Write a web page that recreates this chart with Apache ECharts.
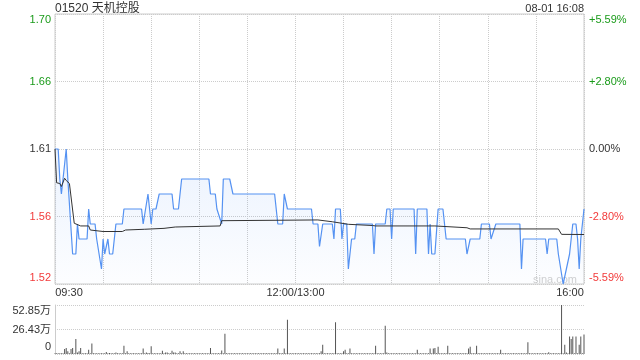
<!DOCTYPE html>
<html><head><meta charset="utf-8">
<script src="https://cdn.jsdelivr.net/npm/echarts@6/dist/echarts.min.js"></script>
<style>html,body{margin:0;padding:0;background:#fff}#c{width:640px;height:360px}</style>
</head><body><div id="c"></div>
<script>
const PREV_CLOSE = 1.61;
const stockTitle = '01520 天机控股';
const stampText = '08-01 16:08';

// minutes from 09:30 (lunch break removed; 150 = 12:00/13:00, 330 = 16:00)
const priceMinutes = [0,2,3,4,5,7,8,9,11,13,14,15,20,21,22,25,26,27,29,30,31,33,34,36,38,42,43,54,55,56,58,59,60,61,63,65,73,74,77,79,96,97,100,101,102,104,105,109,111,137,139,142,143,145,160,161,164,165,167,173,174,175,178,179,180,182,183,185,187,188,198,199,200,206,207,209,210,211,224,225,226,232,233,234,235,237,239,242,244,256,257,259,265,266,271,272,273,275,290,291,292,306,307,308,313,314,315,317,318,319,321,323,325,326,327,328,330];
const priceValues  = [1.61,1.61,1.59,1.58,1.59,1.61,1.59,1.59,1.54,1.54,1.56,1.55,1.55,1.57,1.56,1.56,1.55,1.55,1.53,1.55,1.54,1.55,1.54,1.54,1.56,1.56,1.57,1.57,1.56,1.56,1.58,1.58,1.56,1.57,1.57,1.58,1.58,1.57,1.57,1.59,1.59,1.58,1.58,1.57,1.57,1.56,1.59,1.59,1.58,1.58,1.56,1.56,1.58,1.57,1.57,1.56,1.56,1.545,1.56,1.56,1.55,1.57,1.57,1.55,1.56,1.56,1.53,1.55,1.55,1.56,1.56,1.54,1.56,1.56,1.57,1.57,1.55,1.57,1.57,1.54,1.57,1.57,1.54,1.56,1.54,1.54,1.57,1.57,1.55,1.55,1.54,1.55,1.55,1.56,1.56,1.55,1.55,1.56,1.56,1.53,1.55,1.55,1.54,1.55,1.55,1.54,1.54,1.52,1.52,1.53,1.54,1.56,1.56,1.55,1.53,1.55,1.57];

const avgMinutes = [0,1,3,4,6,7,9,12,16,21,22,30,42,44,56,68,75,103,104,164,173,174,183,184,198,200,237,257,259,314,316,330];
const avgValues  = [1.61,1.5875,1.587,1.585,1.5905,1.589,1.587,1.5605,1.5587,1.5587,1.556,1.555,1.555,1.556,1.5565,1.5571,1.558,1.5587,1.5622,1.5627,1.5615,1.5605,1.5598,1.559,1.559,1.5587,1.5587,1.5575,1.5567,1.5567,1.5531,1.553];

// volume per minute, unit 万 (index = minute)
const volumeValues = [
 0.8,0.9,0.9,0.8,0.9,0.9,5.4,6.5,2.9,0.9,
 5.4,6.5,0.9,16.2,1.5,2.9,6.5,0.9,0.9,0.9,
 0.9,4.7,0.9,11.2,0.9,0.9,0.9,0.9,0.9,0.9,
 0.9,0.9,2.2,0.9,1.2,0.9,0.9,0.9,1.5,0.9,
 0.9,0.9,0.9,9.0,0.9,2.9,0.9,0.9,0.9,0.9,
 0.9,0.9,0.9,0.9,0.9,5.8,0.9,1.5,1.2,0.9,
 8.3,0.9,0.9,0.9,0.9,0.9,0.9,3.6,0.9,1.5,
 1.5,0.9,0.9,3.6,1.5,1.5,0.9,0.9,2.9,0.9,
 2.9,0.9,0.9,0.9,0.9,0.9,0.9,0.9,0.9,0.9,
 0.9,0.9,0.9,0.9,0.9,0.9,0.9,6.5,0.9,0.9,
 0.9,0.9,0.9,0.9,3.9,0.9,21.9,0.9,0.9,0.9,
 0.9,0.9,0.9,0.9,0.9,0.9,0.9,0.9,0.9,0.9,
 0.9,0.9,0.9,0.9,0.9,0.9,0.9,0.9,0.9,0.9,
 0.9,0.9,0.9,0.9,0.9,0.9,0.9,0.9,0.9,5.8,
 0.9,0.9,0.9,5.8,0.9,37.0,0.9,0.9,0.9,0.9,
 0.9,0.9,0.9,0.9,0.9,0.9,0.9,0.9,0.9,0.9,
 0.9,0.9,0.9,0.9,0.9,0.9,2.9,10.1,0.9,0.9,
 0.9,0.9,0.9,0.9,0.9,34.2,0.9,0.9,0.9,0.9,
 2.9,4.7,0.9,0.9,5.8,0.9,0.9,0.9,0.9,0.9,
 0.9,0.9,0.9,0.9,0.9,0.9,0.9,0.9,0.9,0.9,
 9.0,0.9,0.9,0.9,0.9,0.9,30.6,1.5,0.9,0.9,
 0.9,0.9,0.9,0.9,0.9,0.9,0.9,0.9,0.9,0.9,
 0.9,0.9,0.9,0.9,0.9,0.9,4.7,0.9,0.9,0.9,
 0.9,0.9,0.9,0.9,5.8,0.9,5.8,6.5,0.9,7.9,
 0.9,0.9,0.9,0.9,0.9,9.0,0.9,0.9,0.9,0.9,
 0.9,0.9,0.9,0.9,0.9,0.9,0.9,0.9,5.8,7.9,
 0.9,0.9,0.9,9.0,0.9,0.9,0.9,0.9,0.9,0.9,
 0.9,0.9,0.9,0.9,0.9,0.9,0.9,0.9,4.7,0.9,
 0.9,0.9,0.9,0.9,0.9,0.9,0.9,0.9,0.9,0.9,
 0.9,0.9,0.9,0.9,0.9,12.6,0.9,0.9,0.9,0.9,
 0.9,0.9,0.9,0.9,0.9,0.9,0.9,0.9,1.8,0.9,
 0.9,0.9,0.9,0.9,0.9,0.9,52.85,0.9,10.1,1.5,
 0.9,19.0,16.2,19.0,0.9,19.0,0.9,10.1,19.0,0.9,
 20.9
];

const priceTickLabels = ['1.52','1.56','1.61','1.66','1.70'];
const pctTickLabels = ['-5.59%','-2.80%','0.00%','+2.80%','+5.59%'];
const volTickLabels = ['0','26.43万','52.85万'];
const timeTickMinutes = [0,150,330];
const timeTickLabels = ['09:30','12:00/13:00','16:00'];

const FONT = '"Liberation Sans", Arial, "Noto Sans CJK SC", sans-serif';
const GREEN = '#1a9b1a', RED = '#f23a3a', DARK = '#333333';
const styleKeys = ['br','r','n','g','tg'];
function rich(){
  const base = {fontSize:11, fontFamily:FONT};
  return {
    tg: Object.assign({}, base, {color:GREEN, padding:[12,0,0,0]}),
    g:  Object.assign({}, base, {color:GREEN}),
    n:  Object.assign({}, base, {color:DARK}),
    r:  Object.assign({}, base, {color:RED}),
    br: Object.assign({}, base, {color:RED, padding:[0,0,12,0]})
  };
}
const dotted = {color:'#cccccc', type:'dotted', width:1};

const chart = echarts.init(document.getElementById('c'), null, {renderer:'canvas'});
chart.setOption({
  animation:false,
  backgroundColor:'#ffffff',
  textStyle:{fontFamily:FONT},
  title:[
    {text:stockTitle, left:55, top:3, padding:0, textStyle:{fontSize:12, fontWeight:'normal', color:'#333', fontFamily:FONT}},
    {text:stampText, right:56, top:3, padding:0, textStyle:{fontSize:11, fontWeight:'normal', color:'#333', fontFamily:FONT}}
  ],
  grid:[
    {left:55, right:56, top:14, height:270, show:true, borderColor:'#cccccc', borderWidth:1, backgroundColor:'transparent'},
    {left:55, right:56, top:305, height:49}
  ],
  xAxis:[
    {gridIndex:0, type:'value', min:0, max:330, interval:30,
     axisLine:{show:false}, axisTick:{show:false},
     splitLine:{show:true, lineStyle:dotted},
     axisLabel:{show:true, margin:3, fontSize:11, color:DARK, showMinLabel:true, showMaxLabel:true,
       formatter:function(v){
         const i = timeTickMinutes.indexOf(Math.round(v));
         if (i < 0) return '';
         const k = i===0 ? 'l' : (i===timeTickMinutes.length-1 ? 'rt' : 'c');
         return '{'+k+'|'+timeTickLabels[i]+'}';
       },
       rich:{
         l:{fontSize:11, color:DARK, fontFamily:FONT, padding:[0,0,0,28]},
         c:{fontSize:11, color:DARK, fontFamily:FONT},
         rt:{fontSize:11, color:DARK, fontFamily:FONT, padding:[0,28,0,0]}
       }}},
    {gridIndex:1, type:'value', min:0, max:330, interval:30,
     axisLine:{show:false}, axisTick:{show:false}, splitLine:{show:false}, axisLabel:{show:false}}
  ],
  yAxis:[
    {gridIndex:0, type:'value', min:-90, max:90, interval:45, position:'left',
     axisLine:{show:false}, axisTick:{show:false},
     splitLine:{show:true, lineStyle:dotted},
     axisLabel:{margin:4, fontSize:11,
       formatter:function(v){const i=Math.round((v+90)/45); return '{'+styleKeys[i]+'|'+priceTickLabels[i]+'}';},
       rich:rich()}},
    {gridIndex:0, type:'value', min:-90, max:90, interval:45, position:'right',
     axisLine:{show:false}, axisTick:{show:false}, splitLine:{show:false},
     axisLabel:{margin:5, fontSize:11,
       formatter:function(v){const i=Math.round((v+90)/45); return '{'+styleKeys[i]+'|'+pctTickLabels[i]+'}';},
       rich:rich()}},
    {gridIndex:1, type:'value', min:0, max:52.85, interval:26.425, position:'left',
     axisLine:{show:true, lineStyle:{color:'#cccccc'}}, axisTick:{show:false},
     splitLine:{show:true, lineStyle:dotted},
     axisLabel:{margin:4, fontSize:11,
       formatter:function(v){const i=Math.round(v/26.425); const k=i===0?'b':(i===2?'t':'m'); return '{'+k+'|'+volTickLabels[i]+'}';},
       rich:{
         t:{fontSize:11, color:DARK, fontFamily:FONT, padding:[12,0,0,0]},
         m:{fontSize:11, color:DARK, fontFamily:FONT},
         b:{fontSize:11, color:DARK, fontFamily:FONT, padding:[0,0,14,0]}
       }}}
  ],
  graphic:[
    {type:'text', left:533, top:274, silent:true,
     style:{text:'sina.com', fill:'#d0d0d0', font:'11px '+FONT}}
  ],
  series:[
    {name:'价格', type:'line', xAxisIndex:0, yAxisIndex:0,
     data: priceMinutes.map(function(m,i){return [m, (priceValues[i]-PREV_CLOSE)*1000];}),
     showSymbol:false, symbol:'none',
     lineStyle:{color:'#5592f2', width:1.2},
     areaStyle:{origin:'start', color:new echarts.graphic.LinearGradient(0,0,0,1,[
       {offset:0, color:'rgba(76,141,245,0.16)'},{offset:1, color:'rgba(76,141,245,0.02)'}])},
     z:3},
    {name:'均价', type:'line', xAxisIndex:0, yAxisIndex:0,
     data: avgMinutes.map(function(m,i){return [m, (avgValues[i]-PREV_CLOSE)*1000];}),
     showSymbol:false, symbol:'none',
     lineStyle:{color:'#333333', width:1}, z:4},
    {name:'成交量', type:'bar', xAxisIndex:1, yAxisIndex:2,
     data: volumeValues.map(function(v,i){return [i, v];}),
     barWidth:1, itemStyle:{color:'#555555'}}
  ]
});
</script></body></html>
